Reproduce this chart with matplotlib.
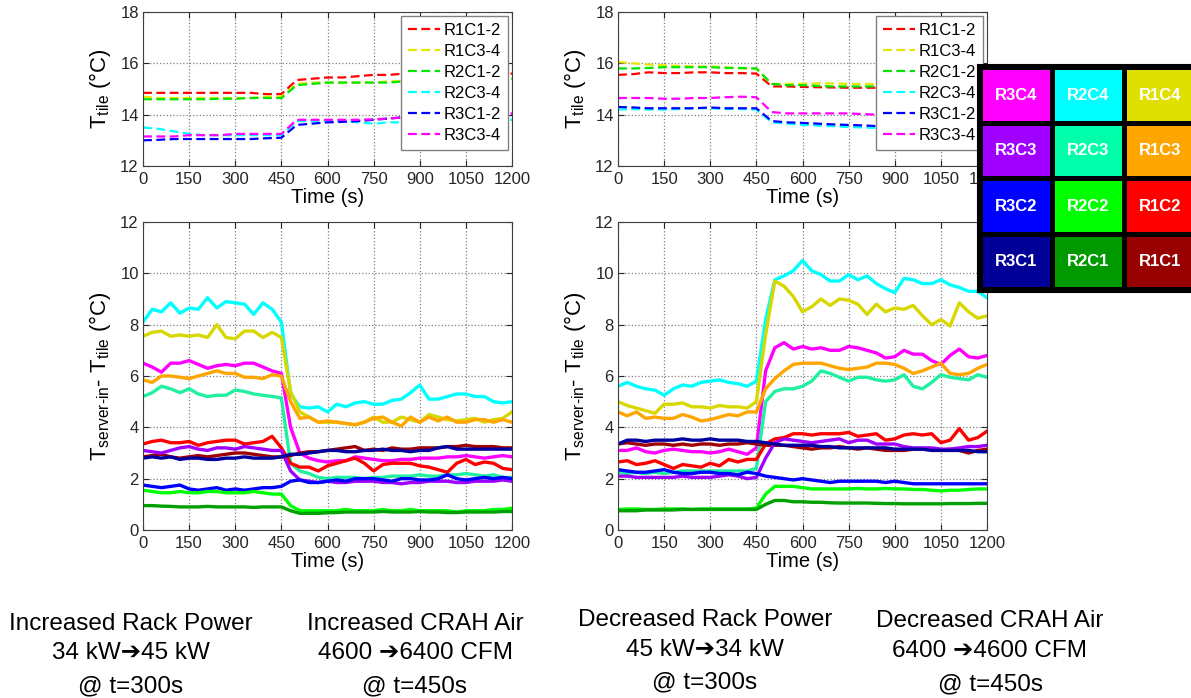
import numpy as np
import matplotlib
matplotlib.use("Agg")
import matplotlib.pyplot as plt
from matplotlib.patches import Rectangle

plt.rcParams['font.family'] = ['Liberation Sans', 'DejaVu Sans']
plt.rcParams['mathtext.fontset'] = 'custom'
plt.rcParams['mathtext.rm'] = 'Liberation Sans'
plt.rcParams['mathtext.it'] = 'Liberation Sans'

# ---- tile temperatures (top panels), sampled every 50 s ----
t_top = np.arange(0, 1201, 50)
tile_names = ['R1C1-2', 'R1C3-4', 'R2C1-2', 'R2C3-4', 'R3C1-2', 'R3C3-4']
tile_colors = ['#FF0000', '#E6E600', '#00E600', '#00FFFF', '#0000FF', '#FF00FF']

tile_inc = {
    'R1C1-2': [14.85, 14.85, 14.85, 14.85, 14.85, 14.85, 14.85, 14.85, 14.8, 14.8, 15.35, 15.4, 15.45,
               15.45, 15.5, 15.55, 15.55, 15.6, 15.6, 15.6, 15.6, 15.6, 15.6, 15.6, 15.6],
    'R1C3-4': [14.7, 14.65, 14.65, 14.65, 14.65, 14.65, 14.65, 14.65, 14.7, 14.7, 15.2, 15.25, 15.25,
               15.25, 15.25, 15.25, 15.3, 15.3, 15.3, 15.35, 15.35, 15.35, 15.4, 15.4, 15.4],
    'R2C1-2': [14.6, 14.6, 14.6, 14.6, 14.6, 14.62, 14.62, 14.65, 14.65, 14.65, 15.15, 15.2, 15.25,
               15.25, 15.25, 15.25, 15.25, 15.3, 15.3, 15.35, 15.35, 15.35, 15.4, 15.4, 15.4],
    'R2C3-4': [13.5, 13.45, 13.35, 13.25, 13.2, 13.2, 13.2, 13.2, 13.2, 13.2, 13.75, 13.75, 13.75,
               13.75, 13.7, 13.65, 13.7, 13.7, 13.7, 13.7, 13.72, 13.75, 13.75, 13.75, 13.8],
    'R3C1-2': [13.0, 13.02, 13.05, 13.05, 13.05, 13.05, 13.05, 13.05, 13.08, 13.1, 13.6, 13.65, 13.7,
               13.72, 13.75, 13.8, 13.85, 13.9, 13.92, 13.95, 13.95, 13.95, 13.98, 14.0, 14.0],
    'R3C3-4': [13.15, 13.15, 13.15, 13.2, 13.2, 13.2, 13.25, 13.25, 13.25, 13.25, 13.8, 13.8, 13.8,
               13.8, 13.8, 13.82, 13.85, 13.9, 13.92, 13.95, 13.97, 13.97, 14.0, 14.02, 14.05],
}

tile_dec = {
    'R1C1-2': [15.55, 15.58, 15.65, 15.62, 15.62, 15.65, 15.65, 15.62, 15.62, 15.6, 15.1, 15.1, 15.08,
               15.07, 15.06, 15.05, 15.05, 15.05, 15.05, 15.05, 15.05, 15.05, 15.05, 15.05, 15.05],
    'R1C3-4': [16.05, 16.0, 15.95, 15.92, 15.9, 15.88, 15.88, 15.85, 15.8, 15.78, 15.2, 15.2, 15.2,
               15.22, 15.22, 15.2, 15.2, 15.18, 15.15, 15.15, 15.15, 15.15, 15.15, 15.15, 15.15],
    'R2C1-2': [15.8, 15.8, 15.82, 15.85, 15.85, 15.85, 15.85, 15.82, 15.82, 15.8, 15.2, 15.15, 15.15,
               15.12, 15.1, 15.1, 15.1, 15.1, 15.1, 15.1, 15.1, 15.1, 15.1, 15.1, 15.1],
    'R2C3-4': [14.2, 14.22, 14.2, 14.2, 14.22, 14.25, 14.25, 14.22, 14.22, 14.2, 13.7, 13.65, 13.6,
               13.58, 13.55, 13.52, 13.5, 13.48, 13.45, 13.45, 13.45, 13.45, 13.45, 13.45, 13.45],
    'R3C1-2': [14.3, 14.28, 14.25, 14.25, 14.25, 14.25, 14.28, 14.25, 14.25, 14.25, 13.75, 13.7, 13.68,
               13.65, 13.62, 13.6, 13.58, 13.55, 13.55, 13.55, 13.55, 13.55, 13.55, 13.55, 13.55],
    'R3C3-4': [14.65, 14.65, 14.65, 14.62, 14.62, 14.65, 14.65, 14.68, 14.7, 14.68, 14.1, 14.05, 14.05,
               14.05, 14.05, 14.05, 14.02, 14.0, 14.0, 14.0, 14.0, 14.0, 14.0, 14.0, 14.0],
}

# ---- server inlet minus tile temperature (bottom panels), sampled every 30 s ----
t_bot = np.arange(0, 1201, 30)
rack_colors = {
    'R2C4': '#00FFFF', 'R1C4': '#D8D800', 'R3C4': '#FF00FF', 'R1C3': '#FFA500',
    'R2C3': '#20F0A0', 'R1C2': '#FF0000', 'R1C1': '#A00000', 'R3C3': '#A000FF',
    'R3C1': '#0000A0', 'R3C2': '#0000FF', 'R2C2': '#00FF00', 'R2C1': '#00A000',
}

dt_inc = {
    'R2C4': [8.1, 8.6, 8.5, 8.85, 8.45, 8.65, 8.6, 9.05, 8.65, 8.9, 8.85, 8.8, 8.4, 8.85, 8.6, 8.1,
             5.3, 4.8, 4.75, 4.8, 4.6, 4.9, 4.8, 4.95, 5.0, 4.9, 4.9, 5.05, 5.1, 5.35, 5.65, 5.1, 5.1,
             5.2, 5.3, 5.3, 5.2, 5.2, 5.0, 4.95, 5.0],
    'R1C4': [7.55, 7.7, 7.75, 7.55, 7.6, 7.55, 7.6, 7.5, 8.0, 7.5, 7.45, 7.75, 7.75, 7.5, 7.7, 7.5,
             5.4, 4.6, 4.4, 4.2, 4.2, 4.2, 4.15, 4.1, 4.2, 4.4, 4.2, 4.2, 4.4, 4.3, 4.2, 4.5, 4.4,
             4.3, 4.25, 4.3, 4.35, 4.2, 4.3, 4.35, 4.6],
    'R1C3': [5.85, 5.75, 6.0, 6.0, 5.95, 5.9, 6.0, 6.1, 6.2, 6.1, 6.1, 5.95, 5.95, 5.9, 6.05, 6.0,
             5.0, 4.35, 4.4, 4.2, 4.25, 4.2, 4.15, 4.1, 4.2, 4.35, 4.4, 4.2, 4.05, 4.4, 4.2, 4.4, 4.25,
             4.4, 4.2, 4.2, 4.3, 4.3, 4.2, 4.3, 4.2],
    'R3C4': [6.5, 6.35, 6.15, 6.5, 6.5, 6.6, 6.45, 6.3, 6.4, 6.45, 6.4, 6.5, 6.5, 6.35, 6.2, 6.1,
             4.0, 3.0, 2.8, 2.7, 2.65, 2.7, 2.7, 2.85, 2.8, 2.75, 2.7, 2.7, 2.75, 2.75, 2.8, 2.8, 2.8,
             2.85, 2.85, 2.9, 2.85, 2.8, 2.85, 2.9, 2.85],
    'R2C3': [5.2, 5.35, 5.6, 5.5, 5.35, 5.5, 5.3, 5.2, 5.25, 5.25, 5.45, 5.4, 5.3, 5.25, 5.2, 5.15,
             2.6, 2.3, 2.2, 2.05, 2.0, 2.05, 2.05, 2.05, 2.0, 2.05, 2.05, 2.1, 2.1, 2.1, 2.15, 2.1, 2.1,
             2.15, 2.15, 2.2, 2.15, 2.1, 2.15, 2.05, 2.05],
    'R1C2': [3.35, 3.45, 3.5, 3.4, 3.4, 3.45, 3.3, 3.4, 3.45, 3.5, 3.5, 3.35, 3.4, 3.45, 3.65, 3.2,
             2.6, 2.45, 2.45, 2.3, 2.5, 2.6, 2.7, 2.8, 2.6, 2.3, 2.55, 2.6, 2.6, 2.6, 2.5, 2.45, 2.35,
             2.25, 2.6, 2.75, 2.55, 2.65, 2.6, 2.4, 2.35],
    'R1C1': [2.85, 2.9, 2.95, 2.85, 2.8, 2.85, 2.9, 2.85, 2.9, 2.95, 3.0, 3.0, 2.95, 2.9, 2.85, 2.85,
             2.9, 3.0, 3.05, 3.05, 3.1, 3.15, 3.2, 3.25, 3.1, 3.15, 3.1, 3.2, 3.15, 3.15, 3.2, 3.2, 3.2,
             3.25, 3.25, 3.3, 3.25, 3.25, 3.25, 3.2, 3.2],
    'R3C3': [3.1, 3.05, 3.0, 3.1, 3.2, 3.25, 3.15, 3.1, 3.2, 3.2, 3.15, 3.25, 3.2, 3.15, 3.1, 3.1,
             2.3, 1.95, 1.9, 1.85, 1.9, 1.85, 1.85, 1.9, 1.9, 1.9, 1.85, 1.85, 1.8, 1.85, 1.85, 1.9, 1.9,
             1.9, 1.85, 1.85, 1.9, 1.9, 1.9, 1.95, 1.9],
    'R3C1': [2.8, 2.85, 2.8, 2.85, 2.75, 2.8, 2.8, 2.75, 2.75, 2.8, 2.8, 2.85, 2.8, 2.8, 2.8, 2.85,
             2.95, 2.95, 3.0, 3.05, 3.1, 3.1, 3.05, 3.05, 3.1, 3.1, 3.15, 3.1, 3.1, 3.05, 3.1, 3.1, 3.2,
             3.25, 3.15, 3.15, 3.15, 3.15, 3.15, 3.15, 3.15],
    'R3C2': [1.75, 1.7, 1.65, 1.7, 1.75, 1.6, 1.55, 1.6, 1.65, 1.55, 1.6, 1.55, 1.6, 1.65, 1.65, 1.7,
             1.9, 1.95, 1.85, 1.85, 1.9, 1.95, 1.9, 2.0, 2.0, 2.0, 1.95, 1.9, 2.0, 2.0, 1.95, 1.95, 2.0,
             2.15, 2.0, 1.95, 2.0, 2.05, 2.0, 2.05, 2.0],
    'R2C2': [1.55, 1.5, 1.45, 1.45, 1.5, 1.45, 1.45, 1.5, 1.5, 1.45, 1.45, 1.45, 1.5, 1.45, 1.4, 1.4,
             0.95, 0.75, 0.75, 0.75, 0.75, 0.75, 0.8, 0.75, 0.75, 0.75, 0.8, 0.75, 0.75, 0.8, 0.75, 0.75,
             0.75, 0.75, 0.7, 0.75, 0.75, 0.75, 0.8, 0.8, 0.85],
    'R2C1': [0.95, 0.95, 0.93, 0.92, 0.9, 0.9, 0.9, 0.92, 0.9, 0.9, 0.9, 0.9, 0.88, 0.9, 0.9, 0.9,
             0.75, 0.65, 0.65, 0.65, 0.67, 0.68, 0.7, 0.7, 0.7, 0.7, 0.72, 0.7, 0.7, 0.7, 0.72, 0.7, 0.7,
             0.68, 0.68, 0.7, 0.7, 0.7, 0.7, 0.72, 0.72],
}

dt_dec = {
    'R2C4': [5.6, 5.75, 5.6, 5.5, 5.45, 5.25, 5.5, 5.65, 5.6, 5.75, 5.8, 5.85, 5.75, 5.7, 5.6, 5.8,
             8.2, 9.75, 9.9, 10.1, 10.5, 10.1, 9.95, 9.7, 9.7, 9.95, 9.75, 9.9, 9.6, 9.4, 9.25, 9.8, 9.75,
             9.6, 9.6, 9.75, 9.55, 9.45, 9.3, 9.3, 9.05],
    'R1C4': [5.0, 4.85, 4.75, 4.65, 4.55, 4.9, 4.9, 4.95, 4.8, 4.8, 4.75, 4.85, 4.8, 4.8, 4.75, 5.0,
             7.6, 9.7, 9.5, 9.1, 8.5, 8.7, 9.0, 8.75, 9.0, 8.95, 8.8, 8.4, 8.8, 8.5, 8.65, 8.6, 8.75,
             8.35, 8.0, 8.2, 7.95, 8.85, 8.5, 8.25, 8.35],
    'R1C3': [4.6, 4.45, 4.6, 4.35, 4.4, 4.35, 4.35, 4.5, 4.4, 4.25, 4.3, 4.4, 4.5, 4.45, 4.6, 4.6,
             5.5, 5.9, 6.2, 6.45, 6.5, 6.5, 6.5, 6.4, 6.3, 6.25, 6.3, 6.35, 6.5, 6.5, 6.45, 6.3, 6.1,
             6.2, 6.35, 6.5, 6.1, 6.05, 6.1, 6.3, 6.45],
    'R3C4': [3.1, 3.1, 3.2, 3.05, 3.0, 3.1, 3.15, 3.1, 3.05, 3.05, 3.0, 3.05, 3.15, 3.05, 2.95, 3.2,
             6.2, 7.1, 7.3, 7.05, 7.15, 7.05, 7.1, 7.0, 7.0, 7.15, 7.1, 7.0, 6.9, 6.7, 6.75, 7.0, 6.85,
             6.85, 6.6, 6.45, 6.8, 7.05, 6.75, 6.7, 6.8],
    'R2C3': [2.25, 2.2, 2.25, 2.2, 2.25, 2.2, 2.25, 2.3, 2.3, 2.3, 2.3, 2.3, 2.3, 2.3, 2.3, 2.4,
             5.0, 5.4, 5.5, 5.5, 5.6, 5.8, 6.2, 6.1, 5.95, 5.8, 5.95, 5.95, 5.85, 5.8, 5.85, 6.05, 5.6,
             5.5, 5.75, 6.05, 5.95, 5.9, 5.85, 6.05, 5.95],
    'R1C2': [2.65, 2.7, 2.55, 2.6, 2.7, 2.55, 2.4, 2.55, 2.5, 2.45, 2.6, 2.5, 2.75, 2.65, 2.75, 2.75,
             3.35, 3.55, 3.6, 3.75, 3.75, 3.7, 3.75, 3.75, 3.75, 3.8, 3.65, 3.7, 3.75, 3.5, 3.55, 3.7, 3.75,
             3.7, 3.75, 3.4, 3.5, 3.95, 3.5, 3.6, 3.85],
    'R1C1': [3.35, 3.4, 3.35, 3.3, 3.35, 3.35, 3.3, 3.35, 3.3, 3.35, 3.35, 3.3, 3.35, 3.35, 3.4, 3.35,
             3.3, 3.3, 3.3, 3.25, 3.2, 3.15, 3.2, 3.2, 3.25, 3.2, 3.15, 3.2, 3.15, 3.1, 3.1, 3.1, 3.15,
             3.15, 3.15, 3.1, 3.15, 3.1, 3.0, 3.1, 3.15],
    'R3C3': [2.1, 2.1, 2.05, 2.05, 2.05, 2.05, 2.05, 2.1, 2.05, 2.05, 2.05, 2.1, 2.15, 2.1, 2.0, 2.05,
             2.8, 3.4, 3.55, 3.5, 3.45, 3.4, 3.45, 3.5, 3.55, 3.4, 3.5, 3.5, 3.35, 3.35, 3.35, 3.25, 3.2,
             3.2, 3.2, 3.15, 3.15, 3.2, 3.25, 3.25, 3.3],
    'R3C1': [3.35, 3.5, 3.5, 3.45, 3.5, 3.5, 3.5, 3.55, 3.5, 3.5, 3.55, 3.5, 3.5, 3.5, 3.45, 3.45,
             3.4, 3.35, 3.3, 3.3, 3.3, 3.3, 3.25, 3.25, 3.2, 3.2, 3.2, 3.2, 3.2, 3.2, 3.15, 3.15, 3.15,
             3.15, 3.1, 3.1, 3.1, 3.1, 3.1, 3.05, 3.05],
    'R3C2': [2.35, 2.3, 2.25, 2.25, 2.3, 2.35, 2.25, 2.2, 2.2, 2.25, 2.25, 2.2, 2.2, 2.15, 2.25, 2.2,
             2.1, 2.05, 2.0, 1.95, 2.0, 1.95, 1.9, 1.85, 1.9, 1.9, 1.9, 1.9, 1.9, 1.85, 1.9, 1.85, 1.8,
             1.8, 1.8, 1.8, 1.8, 1.8, 1.8, 1.8, 1.8],
    'R2C2': [0.8, 0.82, 0.82, 0.8, 0.8, 0.82, 0.82, 0.82, 0.8, 0.82, 0.82, 0.82, 0.82, 0.82, 0.82, 0.85,
             1.4, 1.7, 1.7, 1.7, 1.65, 1.6, 1.6, 1.6, 1.6, 1.6, 1.62, 1.6, 1.6, 1.62, 1.6, 1.6, 1.58,
             1.58, 1.55, 1.52, 1.55, 1.55, 1.58, 1.6, 1.6],
    'R2C1': [0.75, 0.75, 0.75, 0.78, 0.78, 0.78, 0.78, 0.8, 0.8, 0.8, 0.8, 0.8, 0.8, 0.8, 0.8, 0.8,
             1.0, 1.15, 1.15, 1.1, 1.1, 1.08, 1.08, 1.06, 1.05, 1.05, 1.05, 1.05, 1.04, 1.03, 1.03, 1.02,
             1.02, 1.02, 1.02, 1.02, 1.03, 1.03, 1.03, 1.04, 1.04],
}

# rack layout key (rows top to bottom)
key_labels = [['R3C4', 'R2C4', 'R1C4'],
              ['R3C3', 'R2C3', 'R1C3'],
              ['R3C2', 'R2C2', 'R1C2'],
              ['R3C1', 'R2C1', 'R1C1']]
key_colors = {'R3C4': '#FF00FF', 'R2C4': '#00FFFF', 'R1C4': '#E0E000',
              'R3C3': '#A000FF', 'R2C3': '#00FFAA', 'R1C3': '#FFA500',
              'R3C2': '#0000FF', 'R2C2': '#00FF00', 'R1C2': '#FF0000',
              'R3C1': '#000099', 'R2C1': '#009900', 'R1C1': '#990000'}

captions = [
    (131, ['Increased Rack Power', '34 kW\u279445 kW', '@ t=300s'], [624, 653, 686]),
    (415, ['Increased CRAH Air', '4600 \u27946400 CFM', '@ t=450s'], [624, 653, 686]),
    (705, ['Decreased Rack Power', '45 kW\u279434 kW', '@ t=300s'], [620, 650, 682]),
    (990, ['Decreased CRAH Air', '6400 \u27944600 CFM', '@ t=450s'], [621, 651, 684]),
]

W, H = 1191, 698
fig = plt.figure(figsize=(W / 100, H / 100), dpi=100)


def style_axes(ax, ymax, ystep, ymin=0):
    ax.set_xlim(0, 1200)
    ax.set_ylim(ymin, ymax)
    ax.set_xticks(np.arange(0, 1201, 150))
    ax.set_yticks(np.arange(ymin, ymax + 0.1, ystep))
    ax.grid(True, linestyle=':', color='#808080', linewidth=0.9)
    ax.tick_params(direction='in', top=True, right=True, length=4, labelsize=12,
                   colors='#262626')
    ax.tick_params(axis='x', pad=4)
    ax.tick_params(axis='y', pad=3)
    for s in ax.spines.values():
        s.set_color('#404040')
        s.set_linewidth(0.8)
    ax.set_xlabel('Time (s)', fontsize=14.5, labelpad=1)


def px_rect(x0, y0, x1, y1):
    return [x0 / W, 1 - y1 / H, (x1 - x0) / W, (y1 - y0) / H]


ax_tl = fig.add_axes(px_rect(143, 12, 512, 166))
ax_tr = fig.add_axes(px_rect(618, 12, 987, 166))
ax_bl = fig.add_axes(px_rect(143, 222, 512, 530))
ax_br = fig.add_axes(px_rect(618, 222, 987, 530))

for ax, data in [(ax_tl, tile_inc), (ax_tr, tile_dec)]:
    for name, c in zip(tile_names, tile_colors):
        ax.plot(t_top, data[name], '--', color=c, lw=1.6, dashes=(4, 2), label=name)
    style_axes(ax, 18, 2, ymin=12)
    ax.set_ylabel(r'T$_{\rm tile}$ (°C)', fontsize=16, labelpad=5)
    ax.legend(loc='upper right', fontsize=12, fancybox=False, edgecolor='#808080',
              framealpha=1, borderaxespad=0.25, handlelength=1.9, labelspacing=0.36,
              handletextpad=0.25, borderpad=0.4)

for ax, data in [(ax_bl, dt_inc), (ax_br, dt_dec)]:
    for name, c in rack_colors.items():
        ax.plot(t_bot, data[name], '-', color=c, lw=2.4)
    style_axes(ax, 12, 2)
    ax.set_ylabel(r'T$_{\rm server\text{-}in}$- T$_{\rm tile}$ (°C)', fontsize=16, labelpad=5)

# rack layout key drawn on top
key = fig.add_axes(px_rect(977, 64, 1205, 292), zorder=10)
key.set_xlim(0, 228)
key.set_ylim(228, 0)
key.set_facecolor('black')
key.set_xticks([])
key.set_yticks([])
cw, ch, gap, pad = 67, 50.5, 5, 6
for r, row in enumerate(key_labels):
    for c, lab in enumerate(row):
        x0 = pad + c * (cw + gap)
        y0 = pad + r * (ch + gap)
        key.add_patch(Rectangle((x0, y0), cw, ch, facecolor=key_colors[lab], edgecolor='none'))
        key.text(x0 + cw / 2, y0 + ch / 2, lab, color='white', fontsize=12,
                 fontweight='bold', ha='center', va='center')

for xc, lines, ys in captions:
    for txt, yc in zip(lines, ys):
        fig.text(xc / W, 1 - yc / H, txt, fontsize=17.5, ha='center', va='center',
                 family=['Liberation Sans', 'DejaVu Sans'])

fig.savefig('out.png', dpi=100)
